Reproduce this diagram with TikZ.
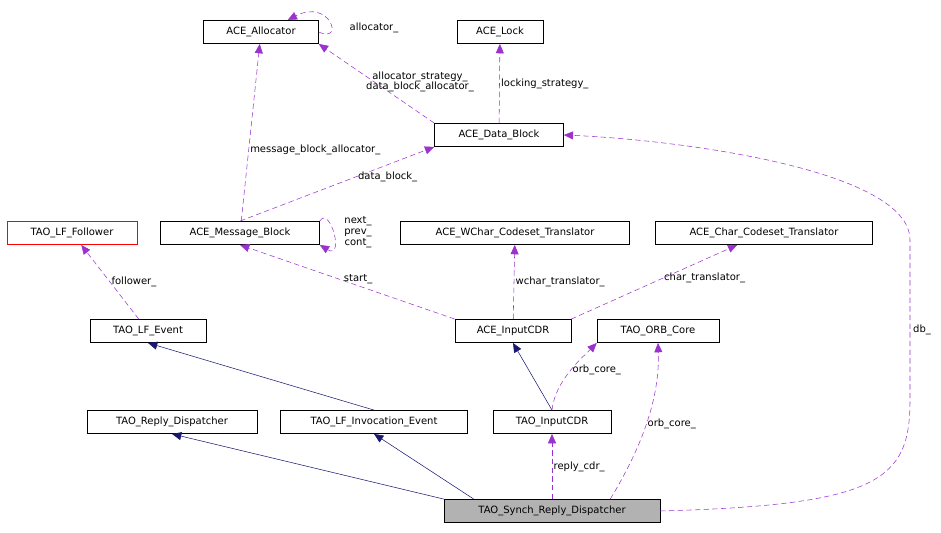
\documentclass[tikz,border=0pt]{standalone}
\usepackage{fontspec}
\setmainfont{DejaVu Sans}
\usetikzlibrary{arrows.meta}
\definecolor{usecol}{HTML}{9A32CD}
\definecolor{inhcol}{HTML}{191970}
\tikzset{
  cls/.style={draw=black,fill=white,font=\fontsize{7.5}{8}\selectfont,inner xsep=5pt,inner ysep=0pt,
    minimum height=17.5pt,anchor=center,text width=#1,align=center},
  use/.style={draw=usecol,dash pattern=on 4pt off 2.5pt,-{Triangle[length=7pt,width=6pt,fill=usecol]}},
  inh/.style={draw=inhcol,-{Triangle[length=7pt,width=6pt,fill=inhcol]}},
  lbl/.style={font=\fontsize{7.5}{8}\selectfont,align=center,inner sep=1pt}
}
\begin{document}
\begin{tikzpicture}[x=0.75pt,y=-0.75pt]
\useasboundingbox (0,0) rectangle (941,532);
% classes
\node[cls=76.25pt] (alloc) at (261,32) {ACE\_Allocator};
\node[cls=54.5pt] (lock) at (500,32) {ACE\_Lock};
\node[cls=86.75pt] (dblock) at (499,135) {ACE\_Data\_Block};
\node[cls=87.5pt,draw=red] (follower) at (72,233) {TAO\_LF\_Follower};
\node[cls=109.25pt] (mblock) at (240,233) {ACE\_Message\_Block};
\node[cls=161.75pt] (wchar) at (515,233) {ACE\_WChar\_Codeset\_Translator};
\node[cls=152.75pt] (char) at (764,233) {ACE\_Char\_Codeset\_Translator};
\node[cls=77pt] (lfevent) at (148,331) {TAO\_LF\_Event};
\node[cls=77pt] (inputcdr) at (513,331) {ACE\_InputCDR};
\node[cls=81.5pt] (orbcore) at (658,331) {TAO\_ORB\_Core};
\node[cls=117.5pt] (replyd) at (172,422) {TAO\_Reply\_Dispatcher};
\node[cls=130.25pt] (lfinv) at (374,422) {TAO\_LF\_Invocation\_Event};
\node[cls=78.5pt] (taocdr) at (552,422) {TAO\_InputCDR};
\node[cls=152pt,fill=black!30] (synch) at (552,511) {TAO\_Synch\_Reply\_Dispatcher};
% relations
\draw[use] (alloc.east) .. controls (345,44) and (330,-2) .. ([xshift=20]alloc.north);
\node[lbl] (l0) at (374,28) {allocator\_};
\draw[use] (dblock.north west) -- (alloc.south east);
\node[lbl] (l1) at (420,82) {allocator\_strategy\_\\data\_block\_allocator\_};
\draw[use] (dblock) -- node[lbl,right,pos=0.5] {locking\_strategy\_} (lock);
\draw[use] (mblock) -- node[lbl,right,pos=0.4] {message\_block\_allocator\_} (alloc);
\draw[use] (mblock.north) -- node[lbl,right,pos=0.6] {data\_block\_} (dblock.south west);
\draw[use] (mblock.north east) .. controls (330,205) and (345,260) .. (mblock.south east);
\node[lbl] (l2) at (358,232) {next\_\\prev\_\\cont\_};
\draw[use] (synch.east) .. controls (880,505) and (910,480) .. (910,400)
  -- (910,240) .. controls (910,170) and (680,140) .. (dblock.east);
\node[lbl] (l3) at (922,330) {db\_};
\draw[use] (lfevent) -- node[lbl,right] {follower\_} (follower);
\draw[use] (inputcdr.north west) -- node[lbl,above,pos=0.45] {start\_} (mblock.south);
\draw[use] (inputcdr) -- node[lbl,right] {wchar\_translator\_} (wchar);
\draw[use] (inputcdr.north east) -- node[lbl,right,pos=0.55] {char\_translator\_} (char);
\draw[inh] (lfinv.north) -- (lfevent.south);
\draw[inh] (taocdr.north) -- (inputcdr.south);
\draw[use] (taocdr.north) .. controls (555,380) and (585,355) .. node[lbl,right,pos=0.5] {orb\_core\_} (orbcore.south west);
\draw[inh] (synch.north west) -- (replyd.south);
\draw[inh] (synch.north west) ++(30,0) -- (lfinv.south);
\draw[use] (synch.north) -- node[lbl,right] {reply\_cdr\_} (taocdr.south);
\draw[use] (synch.north east) ++(-50,0) .. controls (640,450) and (660,400) .. node[lbl,right,pos=0.5] {orb\_core\_} (orbcore.south);
\end{tikzpicture}
\end{document}
